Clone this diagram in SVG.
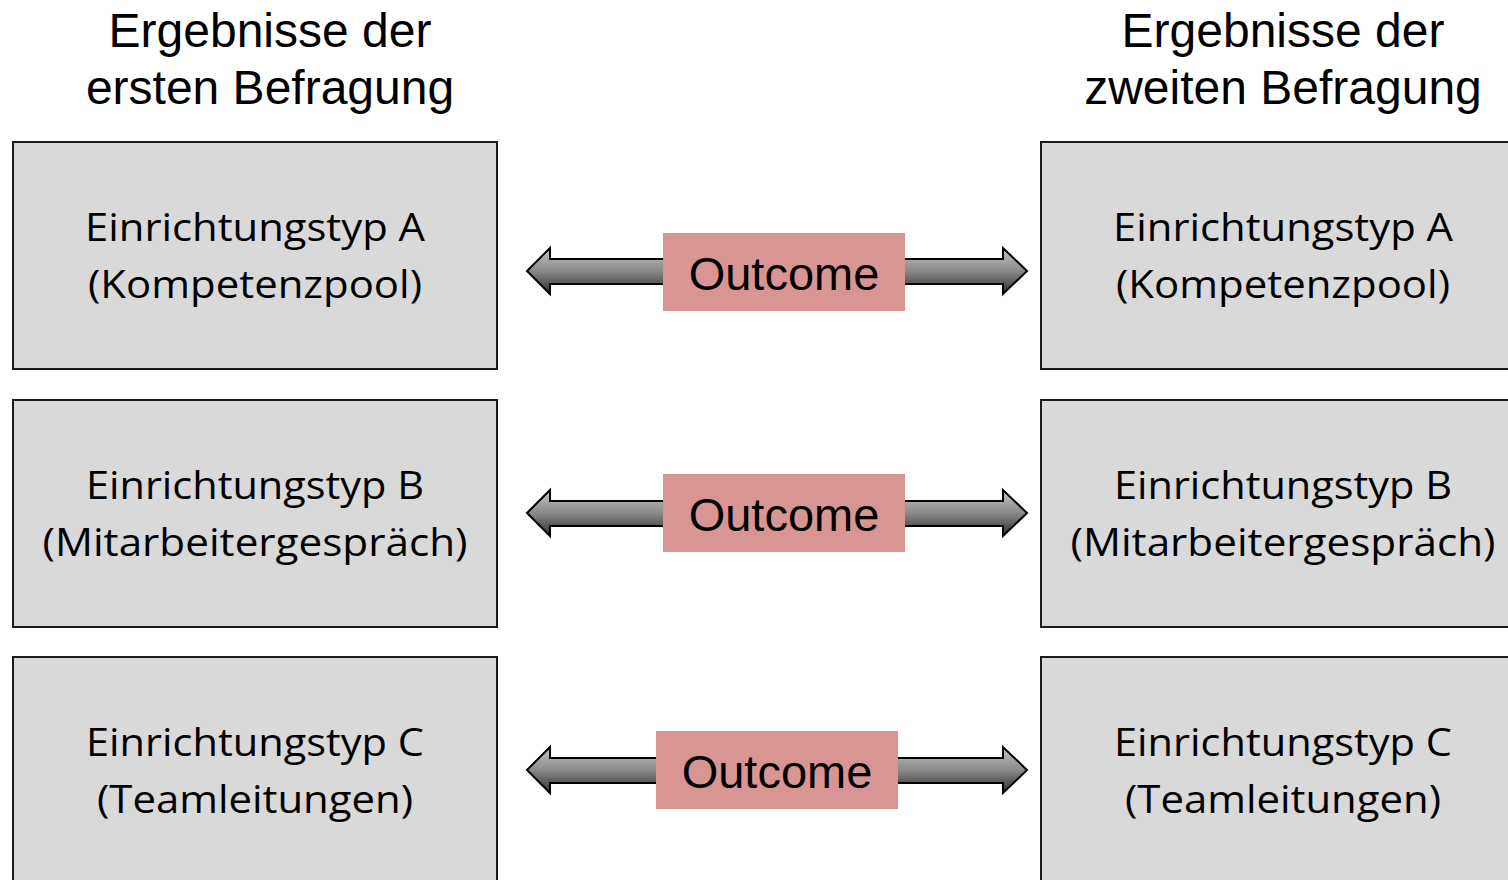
<svg xmlns="http://www.w3.org/2000/svg" width="1508" height="880" viewBox="0 0 1508 880">
<defs>
<linearGradient id="g" x1="0" y1="0" x2="0" y2="1">
<stop offset="0" stop-color="#c4c4c4"/>
<stop offset="0.5" stop-color="#8a8a8a"/>
<stop offset="1" stop-color="#2e2e2e"/>
</linearGradient>
<style>
.box{fill:#d9d9d9;stroke:#1a1a1a;stroke-width:2}
.bt{font-family:"Open Sans","Noto Sans",sans-serif;font-size:38px;fill:#000;text-anchor:middle}
.tt{font-family:"Liberation Sans",Arial,sans-serif;font-size:48px;fill:#000;text-anchor:middle}
.ob{fill:#d99594}
.ot{font-family:"Liberation Sans",Arial,sans-serif;font-size:47px;fill:#000;text-anchor:middle}
.arr{fill:url(#g);stroke:#000;stroke-width:2;stroke-linejoin:miter}
</style>
</defs>
<rect width="1508" height="880" fill="#ffffff"/>
<g id="title-left">
<text class="tt" x="270" y="47">Ergebnisse der</text>
<text class="tt" x="270" y="104">ersten Befragung</text>
</g>
<g id="title-right">
<text class="tt" x="1283" y="47">Ergebnisse der</text>
<text class="tt" x="1283" y="104">zweiten Befragung</text>
</g>
<g id="connectors">
<g id="arrow1">
<path class="arr" d="M527,271 L550,248 L550,259 L1003,259 L1003,248 L1027,271 L1003,294 L1003,284 L550,284 L550,294 Z"/>
</g>
<g id="arrow2">
<path class="arr" d="M527,513 L550,490 L550,501 L1003,501 L1003,490 L1027,513 L1003,536 L1003,526 L550,526 L550,536 Z"/>
</g>
<g id="arrow3">
<path class="arr" d="M527,770 L550,747 L550,758 L1003,758 L1003,747 L1027,770 L1003,793 L1003,783 L550,783 L550,793 Z"/>
</g>
</g>
<g id="outcome1">
<rect class="ob" x="663" y="233" width="242" height="78"/>
<text class="ot" x="784" y="290">Outcome</text>
</g>
<g id="outcome2">
<rect class="ob" x="663" y="474" width="242" height="78"/>
<text class="ot" x="784" y="531">Outcome</text>
</g>
<g id="outcome3">
<rect class="ob" x="656" y="731" width="242" height="78"/>
<text class="ot" x="777" y="788">Outcome</text>
</g>
<g id="left-a">
<rect class="box" x="13" y="142" width="484" height="227"/>
<text class="bt" x="255" y="241" textLength="340" lengthAdjust="spacingAndGlyphs">Einrichtungstyp A</text>
<text class="bt" x="255" y="298" textLength="334" lengthAdjust="spacingAndGlyphs">(Kompetenzpool)</text>
</g>
<g id="left-b">
<rect class="box" x="13" y="400" width="484" height="227"/>
<text class="bt" x="255" y="499" textLength="338" lengthAdjust="spacingAndGlyphs">Einrichtungstyp B</text>
<text class="bt" x="255" y="556" textLength="425" lengthAdjust="spacingAndGlyphs">(Mitarbeitergespräch)</text>
</g>
<g id="left-c">
<rect class="box" x="13" y="657" width="484" height="240"/>
<text class="bt" x="255" y="756" textLength="338" lengthAdjust="spacingAndGlyphs">Einrichtungstyp C</text>
<text class="bt" x="255" y="813" textLength="316" lengthAdjust="spacingAndGlyphs">(Teamleitungen)</text>
</g>
<g id="right-a">
<rect class="box" x="1041" y="142" width="484" height="227"/>
<text class="bt" x="1283" y="241" textLength="340" lengthAdjust="spacingAndGlyphs">Einrichtungstyp A</text>
<text class="bt" x="1283" y="298" textLength="334" lengthAdjust="spacingAndGlyphs">(Kompetenzpool)</text>
</g>
<g id="right-b">
<rect class="box" x="1041" y="400" width="484" height="227"/>
<text class="bt" x="1283" y="499" textLength="338" lengthAdjust="spacingAndGlyphs">Einrichtungstyp B</text>
<text class="bt" x="1283" y="556" textLength="425" lengthAdjust="spacingAndGlyphs">(Mitarbeitergespräch)</text>
</g>
<g id="right-c">
<rect class="box" x="1041" y="657" width="484" height="240"/>
<text class="bt" x="1283" y="756" textLength="338" lengthAdjust="spacingAndGlyphs">Einrichtungstyp C</text>
<text class="bt" x="1283" y="813" textLength="316" lengthAdjust="spacingAndGlyphs">(Teamleitungen)</text>
</g>
</svg>
